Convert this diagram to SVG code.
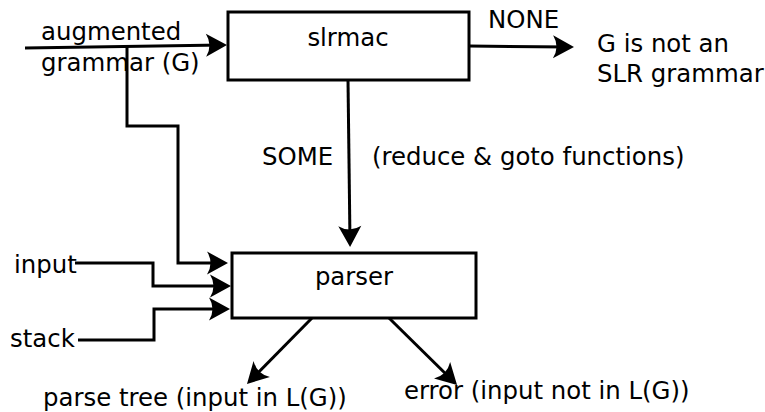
<svg xmlns="http://www.w3.org/2000/svg" width="765" height="412" viewBox="0 0 765 412">
  <style>
    text { font-family: "DejaVu Sans", "Liberation Sans", sans-serif; font-size: 24.4px; fill: #000; }
    .box { fill: #fff; stroke: #000; stroke-width: 3; }
    .wire { fill: none; stroke: #000; stroke-width: 3; stroke-linejoin: miter; }
    .arrow { marker-end: url(#head); }
  </style>
  <defs>
    <marker id="head" markerUnits="userSpaceOnUse" viewBox="-18 -12 24 24" refX="0" refY="0" markerWidth="24" markerHeight="24" orient="auto" overflow="visible">
      <path d="M5,0 L-16,-11.5 Q-9,0 -16,11.5 Z" fill="#000"/>
    </marker>
  </defs>

  <!-- connectors -->
  <g id="connectors">
    <path class="wire arrow" d="M25,48 L222,45"/>
    <path class="wire arrow" d="M127,46 L127,126 L178,126 L178,263 L223,263"/>
    <path class="wire arrow" d="M75,263 L153,263 L153,286 L226,286"/>
    <path class="wire arrow" d="M78,340 L154,340 L154,309 L225,309"/>
    <path class="wire arrow" d="M348,80 L350,242"/>
    <path class="wire arrow" d="M469,46 L569,47"/>
    <path class="wire arrow" d="M312,318 L250.5,380.4"/>
    <path class="wire arrow" d="M389,318 L453.5,381.5"/>
  </g>

  <g id="slrmac">
    <rect class="box" x="228" y="12" width="241" height="68"/>
    <text x="348" y="46" text-anchor="middle">slrmac</text>
  </g>

  <g id="parser">
    <rect class="box" x="232" y="253" width="244" height="65"/>
    <text x="354" y="285" text-anchor="middle">parser</text>
  </g>

  <g id="grammar-input">
    <text x="41" y="40">augmented</text>
    <text x="41" y="71">grammar (G)</text>
  </g>

  <g id="input-label">
    <text x="14" y="273">input</text>
  </g>

  <g id="stack-label">
    <text x="10" y="347">stack</text>
  </g>

  <g id="none-result">
    <text x="488" y="28">NONE</text>
    <text x="597" y="52">G is not an</text>
    <text x="597" y="82">SLR grammar</text>
  </g>

  <g id="some-labels">
    <text x="262" y="165">SOME</text>
    <text x="372" y="165">(reduce &amp; goto functions)</text>
  </g>

  <g id="parse-tree">
    <text x="43" y="406">parse tree (input in L(G))</text>
  </g>

  <g id="error">
    <text x="404" y="399">error (input not in L(G))</text>
  </g>
</svg>
